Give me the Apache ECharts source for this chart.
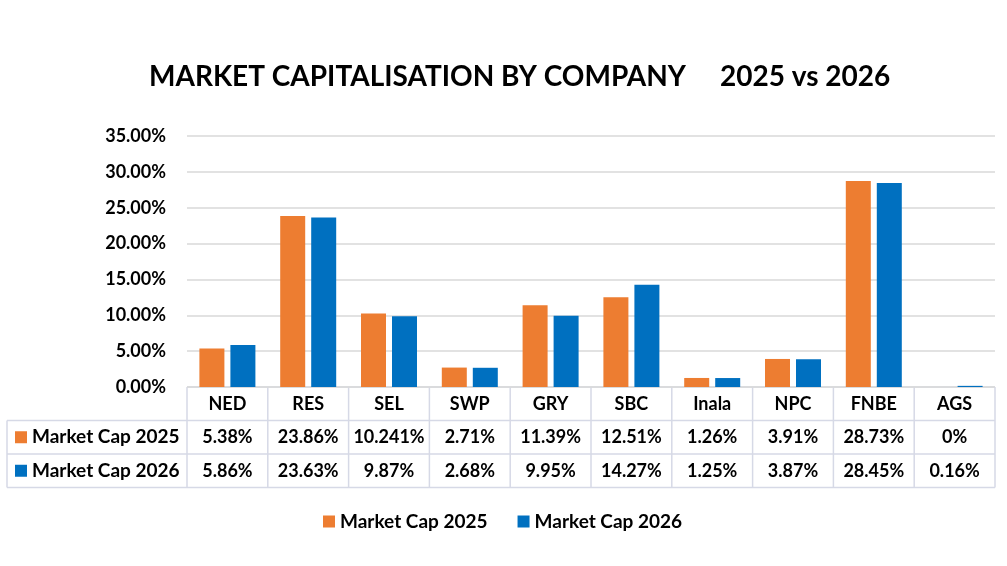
<!DOCTYPE html>
<html><head><meta charset="utf-8">
<script src="https://cdn.jsdelivr.net/npm/echarts@6/dist/echarts.min.js"></script>
<style>html,body{margin:0;padding:0;background:#fff}#c{width:1007px;height:566px}</style>
</head><body><div id="c"></div>
<script>
var categories = ['NED','RES','SEL','SWP','GRY','SBC','Inala','NPC','FNBE','AGS'];
var seriesNames = ['Market Cap 2025','Market Cap 2026'];
var cap2025 = [5.38, 23.86, 10.241, 2.71, 11.39, 12.51, 1.26, 3.91, 28.73, 0];
var cap2026 = [5.86, 23.63, 9.87, 2.68, 9.95, 14.27, 1.25, 3.87, 28.45, 0.16];
var colors = ['#ED7D31', '#0070C0'];

var W = 1007, H = 566;
var gl = 187, gr = 12, gt = 136, gb = 179;
var FONT = 'Lato';
var chart = echarts.init(document.getElementById('c'), null, {renderer:'canvas'});

var plotW = W - gl - gr;
var colW = plotW / categories.length;
var axisY = H - gb;
var rowH = 33.5;
var tableLeft = 7;
var lineColor = '#D6D9E6';

var graphics = [];
graphics.push({type:'line', shape:{x1:gl, y1:axisY, x2:W-gr, y2:axisY}, style:{stroke:lineColor, lineWidth:1.5}});
for (var r = 1; r <= 3; r++) {
  var y = axisY + r*rowH;
  graphics.push({type:'line', shape:{x1:tableLeft, y1:y, x2:W-gr, y2:y}, style:{stroke:lineColor, lineWidth:1.5}});
}
for (var c = 0; c <= categories.length; c++) {
  var x = gl + c*colW;
  graphics.push({type:'line', shape:{x1:x, y1:axisY, x2:x, y2:axisY+3*rowH}, style:{stroke:lineColor, lineWidth:1.5}});
}
graphics.push({type:'line', shape:{x1:tableLeft, y1:axisY+rowH, x2:tableLeft, y2:axisY+3*rowH}, style:{stroke:lineColor, lineWidth:1.5}});
var rows = [cap2025, cap2026];
rows.forEach(function(vals, ri){
  var cy = axisY + (ri+1.5)*rowH;
  graphics.push({type:'rect', shape:{x:15, y:cy-6, width:12, height:12}, style:{fill:colors[ri]}});
  graphics.push({type:'text', style:{x:32, y:cy, text:seriesNames[ri], font:'bold 19px '+FONT, fill:'#000', textAlign:'left', textVerticalAlign:'middle'}});
  vals.forEach(function(v, ci){
    graphics.push({type:'text', style:{x:gl+(ci+0.5)*colW, y:cy, text:String(v)+'%', font:'bold 18px '+FONT, fill:'#000', textAlign:'center', textVerticalAlign:'middle'}});
  });
});

chart.setOption({
  backgroundColor:'#fff',
  animation:false,
  title:{text:'MARKET CAPITALISATION BY COMPANY     2025 vs 2026', left:144, top:58,
    textStyle:{fontFamily:FONT, fontWeight:'bold', fontSize:28, color:'#000'}},
  legend:{data:seriesNames, left:318, top:507, itemWidth:12, itemHeight:12, itemGap:30, icon:'rect',
    textStyle:{fontFamily:FONT, fontWeight:'bold', fontSize:19, color:'#000'}},
  grid:{left:gl, right:gr, top:gt, bottom:gb, containLabel:false},
  xAxis:{type:'category', data:categories, axisLine:{show:false}, axisTick:{show:false},
    axisLabel:{margin:8, fontFamily:FONT, fontWeight:'bold', fontSize:18, color:'#000'}},
  yAxis:{type:'value', min:0, max:35, interval:5, axisLine:{show:false}, axisTick:{show:false},
    splitLine:{lineStyle:{color:'#D9D9D9', width:1.5}},
    axisLabel:{margin:21, fontFamily:FONT, fontWeight:'bold', fontSize:18, color:'#000',
      formatter:function(v){return v.toFixed(2)+'%';}}},
  series:[
    {name:seriesNames[0], type:'bar', data:cap2025, itemStyle:{color:colors[0]}, barWidth:25, barGap:'24%'},
    {name:seriesNames[1], type:'bar', data:cap2026, itemStyle:{color:colors[1]}, barWidth:25}
  ],
  graphic:graphics
});
</script></body></html>
